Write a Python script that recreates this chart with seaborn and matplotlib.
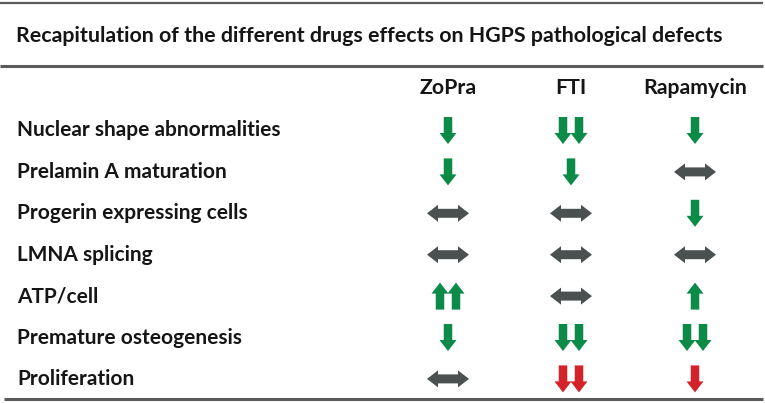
import matplotlib
matplotlib.use("Agg")
import matplotlib.pyplot as plt
from matplotlib.patches import Polygon
import seaborn as sns

# ---- data ----
title = "Recapitulation of the different drugs effects on HGPS pathological defects"
drugs = ["ZoPra", "FTI", "Rapamycin"]
defects = ["Nuclear shape abnormalities", "Prelamin A maturation", "Progerin expressing cells",
           "LMNA splicing", "ATP/cell", "Premature osteogenesis", "Proliferation"]
# effect code: -2 strong decrease, -1 decrease, 0 no change, 1 increase, 2 strong increase
zopra_effect = [-1, -1, 0, 0, 2, -1, 0]
fti_effect = [-2, -1, 0, 0, 0, -2, -2]
rapamycin_effect = [-1, 0, -1, 0, 1, -2, -1]
# whether a change in this row is beneficial (green) or detrimental (red)
row_tone = ["good", "good", "good", "good", "good", "good", "bad"]

effects = [zopra_effect, fti_effect, rapamycin_effect]

# ---- style ----
sns.set_theme(style="white")
plt.rcParams["font.family"] = ["Lato", "DejaVu Sans"]
GREEN = "#0b8b47"
RED = "#d3222a"
GREY = "#4b5050"
TEXT = "#151515"
RULE = "#5a5a5a"

W, H = 765, 403
fig = plt.figure(figsize=(W / 100, H / 100), dpi=100)
ax = fig.add_axes([0, 0, 1, 1])
ax.set_xlim(0, W)
ax.set_ylim(H, 0)
ax.axis("off")

col_x = [448, 571, 695]
row_y0, row_step = 130.5, 41.4
label_x = 17


def v_arrow(cx, cy, up, color, L=27, sw=8.5, hw=17, hl=11):
    s = -1 if up else 1
    top = cy - s * L / 2
    neck = cy + s * (L / 2 - hl)
    tip = cy + s * L / 2
    pts = [(cx - sw / 2, top), (cx + sw / 2, top), (cx + sw / 2, neck), (cx + hw / 2, neck),
           (cx, tip), (cx - hw / 2, neck), (cx - sw / 2, neck)]
    ax.add_patch(Polygon(pts, closed=True, facecolor=color, edgecolor="none"))


def h_arrow(cx, cy, color, Wd=42, sh=9, hh=17, hl=11):
    l, r = cx - Wd / 2, cx + Wd / 2
    pts = [(l, cy), (l + hl, cy - hh / 2), (l + hl, cy - sh / 2), (r - hl, cy - sh / 2),
           (r - hl, cy - hh / 2), (r, cy), (r - hl, cy + hh / 2), (r - hl, cy + sh / 2),
           (l + hl, cy + sh / 2), (l + hl, cy + hh / 2)]
    ax.add_patch(Polygon(pts, closed=True, facecolor=color, edgecolor="none"))


# rules
ax.plot([0, 763], [2.5, 2.5], color=RULE, lw=1.6, solid_capstyle="butt")
ax.plot([0, 763], [65.5, 65.5], color=RULE, lw=2.2, solid_capstyle="butt")
ax.plot([4, 763], [398.5, 398.5], color=RULE, lw=2.2, solid_capstyle="butt")

ax.text(16, 36, title, fontsize=15.4, fontweight="bold", color=TEXT, va="center", ha="left")

for x, d in zip(col_x, drugs):
    ax.text(x, 88, d, fontsize=15.3, fontweight="bold", color=TEXT, va="center", ha="center")

for i, (name, tone) in enumerate(zip(defects, row_tone)):
    y = row_y0 + i * row_step
    ax.text(label_x, y, name, fontsize=15, fontweight="bold", color=TEXT, va="center", ha="left")
    for x, eff in zip(col_x, effects):
        v = eff[i]
        if v == 0:
            h_arrow(x, y, GREY)
            continue
        color = GREEN if tone == "good" else RED
        n = abs(v)
        offsets = [0] if n == 1 else [-8, 8]
        for o in offsets:
            v_arrow(x + o, y, v > 0, color)

fig.savefig("out.png", dpi=100)
